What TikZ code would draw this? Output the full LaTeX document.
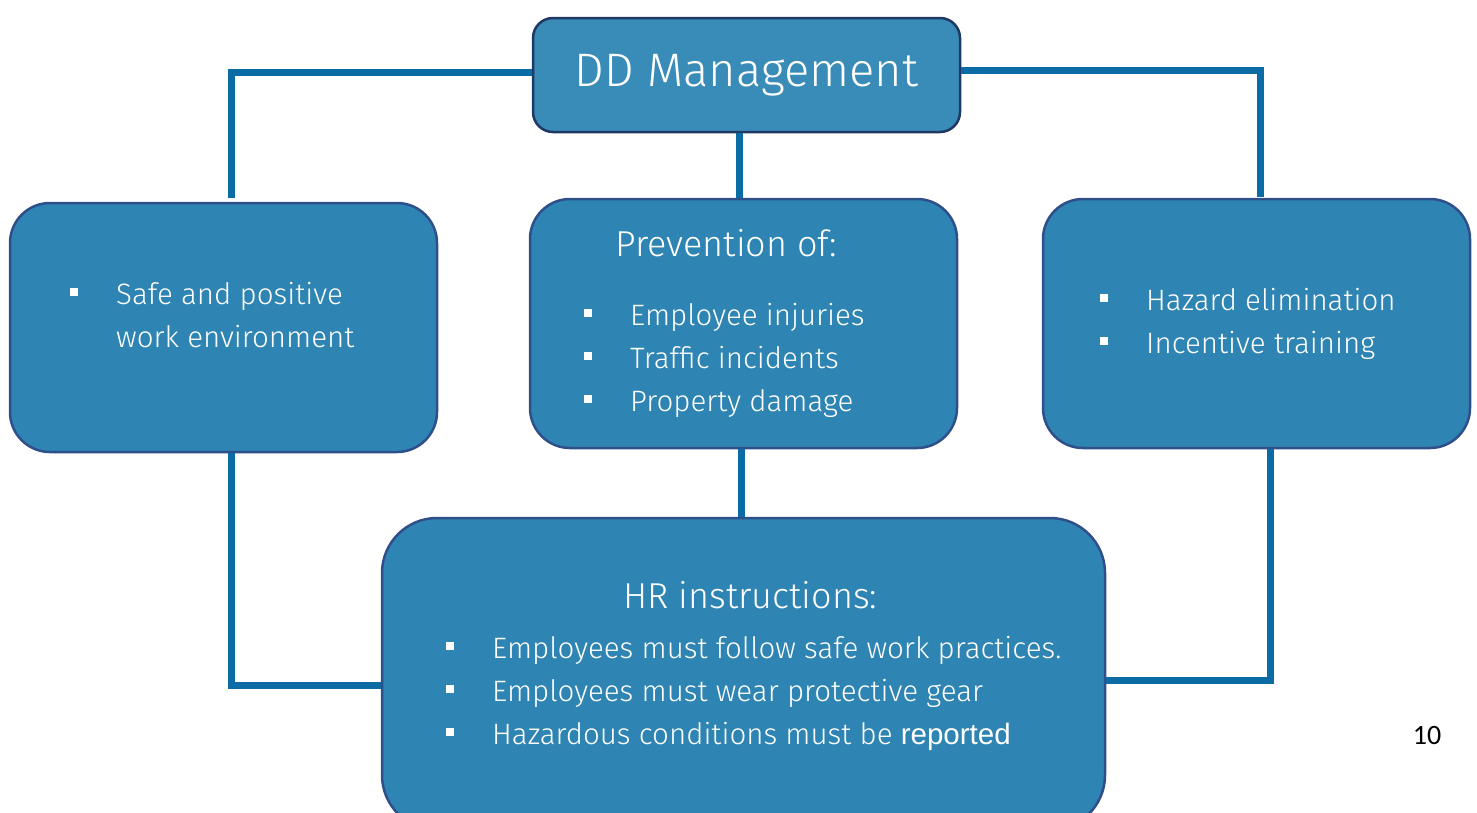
\documentclass[tikz,border=0pt]{standalone}
\usepackage{fontspec}
\setmainfont{Fira Sans Light}
\newfontfamily\arialfont{Liberation Sans}
\newfontfamily\pagefont{Carlito}
\usepackage{xcolor}
\usetikzlibrary{positioning}

\definecolor{boxblue}{HTML}{2E84B2}
\definecolor{topblue}{HTML}{3A8CB8}
\definecolor{boxedge}{HTML}{2F4F8A}
\definecolor{topedge}{HTML}{1F3864}
\definecolor{linkblue}{HTML}{0B6BA5}

% kleiner weisser Aufzaehlungspunkt
\newcommand{\sqbul}{\makebox[46pt][l]{\rule[8.5pt]{8pt}{8pt}}}
\newcommand{\boxhead}{\fontsize{36}{43}\selectfont}

\begin{document}
\begin{tikzpicture}[x=1pt,y=-1pt,
    topbox/.style={draw=topedge,line width=2.5pt,fill=topblue,rounded corners=20pt,
        minimum width=427pt,minimum height=114pt,text=white,
        font=\fontsize{47}{54}\selectfont},
    subbox/.style={draw=boxedge,line width=2.5pt,fill=boxblue,rounded corners=40pt,
        minimum width=427pt,minimum height=249pt},
    hrbox/.style={subbox,rounded corners=55pt,minimum width=723pt,minimum height=312pt},
    boxtext/.style={anchor=west,inner sep=0pt,text=white,align=left,
        font=\fontsize{29.5}{43}\selectfont},
    link/.style={linkblue,line width=7pt},
    pagenum/.style={font=\pagefont\fontsize{28}{30}\selectfont,text=black}]

\path[use as bounding box,clip] (0,0) rectangle (1477,812);

% Ecken der Verbindungslinien
\coordinate (lefttop) at (231,198);
\coordinate (righttop) at (1260,197);

% Kaesten
\node[topbox] (mgmt) at (746.5,75) {DD Management};
\node[subbox] (safe) at (223.5,327.5) {};
\node[subbox] (prev) at (743.5,323.5) {};
\node[subbox] (hazard) at (1256.5,323.5) {};
\node[hrbox] (hr) at (743.5,674) {};

% Texte
\node[boxtext] (safetext) at (70,315.5) {\sqbul Safe and positive\\ \hspace*{46pt}work environment};
\node[boxtext] (prevtext) at (584,323.5) {\hspace*{31pt}{\boxhead Prevention of:}\\[26pt]
    \sqbul Employee injuries\\ \sqbul Traffic incidents\\ \sqbul Property damage};
\node[boxtext] (hazardtext) at (1100,323.5) {\sqbul Hazard elimination\\ \sqbul Incentive training};
\node[boxtext] (hrtext) at (446,666) {\hspace*{177pt}{\boxhead HR instructions:}\\[7pt]
    \sqbul Employees must follow safe work practices.\\
    \sqbul Employees must wear protective gear\\
    \sqbul Hazardous conditions must be {\arialfont reported}};

\draw[link] (mgmt.west |- 0,72) -| (lefttop);
\draw[link] (mgmt.east |- 0,70) -| (righttop);
\draw[link] (mgmt.south -| 739,0) -- (prev.north -| 739,0);
\draw[link] (prev.south -| 741,0) -- (hr.north -| 741,0);
\draw[link] (safe.south -| 231,0) |- (hr.west |- 0,685);
\draw[link] (hazard.south -| 1270,0) |- (hr.east |- 0,680);

% Seitenzahl
\node[pagenum] (pg) at (1427,735) {10};

\end{tikzpicture}
\end{document}
